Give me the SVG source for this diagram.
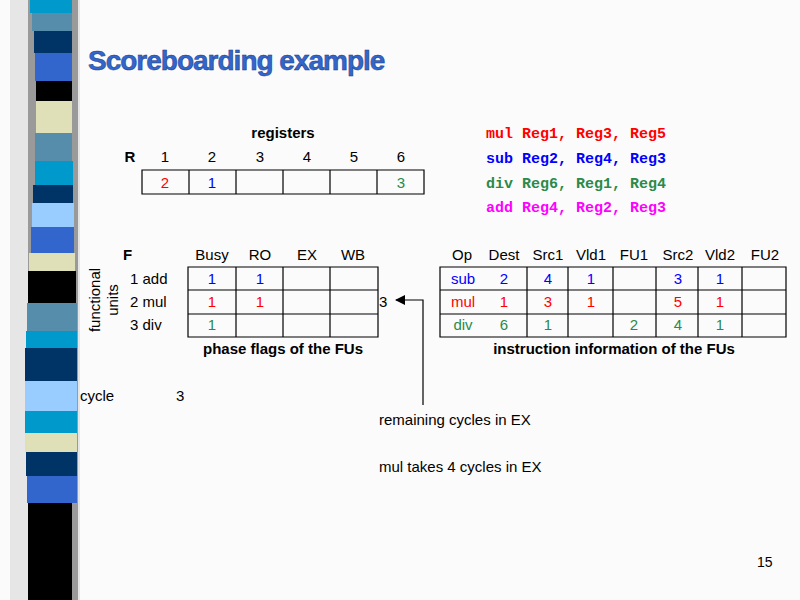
<svg xmlns="http://www.w3.org/2000/svg" width="800" height="600" viewBox="0 0 800 600">
<style>
text{font-family:"Liberation Sans",Arial,sans-serif;font-size:15px;fill:#000}
.m{font-family:"Liberation Mono","Courier New",monospace;font-weight:bold;font-size:15px}
.c{text-anchor:middle}
.b{font-weight:bold}
.cell{fill:none;stroke:#000;stroke-width:1.2}
.r{fill:#f00}.u{fill:#00f}.g{fill:#2a8a4a}.p{fill:#f0f}
</style>
<defs><marker id="ah" markerWidth="10" markerHeight="10" refX="9" refY="5" orient="auto" markerUnits="userSpaceOnUse"><path d="M0,0L10,5L0,10z" fill="#000"/></marker></defs>
<rect width="800" height="600" fill="#fbfbfb"/>
<g id="strip">
<rect x="10" y="0" width="70" height="600" fill="#e6e6e6"/>
<rect x="28" y="0" width="50" height="600" fill="#9a9a9a"/>
<rect x="30" y="0" width="42" height="13" fill="#0099cc"/>
<rect x="32" y="13" width="40" height="18" fill="#558daa"/>
<rect x="34" y="31" width="38" height="22" fill="#003366"/>
<rect x="35" y="53" width="37" height="28" fill="#3366cc"/>
<rect x="36" y="81" width="36" height="20" fill="#000"/>
<rect x="36" y="101" width="36" height="32" fill="#e0e0b8"/>
<rect x="35" y="133" width="37" height="28" fill="#558daa"/>
<rect x="35" y="161" width="38" height="24" fill="#0099cc"/>
<rect x="33" y="185" width="40" height="18" fill="#003366"/>
<rect x="32" y="203" width="42" height="24" fill="#99ccff"/>
<rect x="31" y="227" width="43" height="26" fill="#3366cc"/>
<rect x="29" y="253" width="46" height="18" fill="#e0e0b8"/>
<rect x="28" y="271" width="48" height="32" fill="#000"/>
<rect x="27" y="303" width="50" height="28" fill="#558daa"/>
<rect x="26" y="331" width="51" height="17" fill="#0099cc"/>
<rect x="25" y="348" width="52" height="33" fill="#003366"/>
<rect x="25" y="381" width="52" height="30" fill="#99ccff"/>
<rect x="25" y="411" width="52" height="22" fill="#0099cc"/>
<rect x="25" y="433" width="52" height="19" fill="#e0e0b8"/>
<rect x="26" y="452" width="51" height="24" fill="#003366"/>
<rect x="27" y="476" width="50" height="27" fill="#3366cc"/>
<rect x="28" y="503" width="44" height="97" fill="#000"/>
</g>
<text x="88" y="70" style="font-size:28px;font-weight:bold;fill:#3366cc;letter-spacing:-1px;stroke:#1a3a80;stroke-width:0.5">Scoreboarding example</text>
<g id="registers">
<text x="283" y="138" class="c b">registers</text>
<text x="130" y="162" class="c b">R</text>
<text x="165" y="162" class="c">1</text><text x="212" y="162" class="c">2</text><text x="260" y="162" class="c">3</text><text x="307" y="162" class="c">4</text><text x="354" y="162" class="c">5</text><text x="401" y="162" class="c">6</text>
<path class="cell" d="M142,170H424V194H142ZM189,170V194M236,170V194M283,170V194M330,170V194M377,170V194"/>
<text x="165" y="188" class="c r">2</text><text x="212" y="188" class="c u">1</text><text x="401" y="188" class="c g">3</text>
</g>
<g id="code">
<text x="486" y="138" class="m r">mul Reg1, Reg3, Reg5</text>
<text x="486" y="163" class="m u">sub Reg2, Reg4, Reg3</text>
<text x="486" y="188" class="m g">div Reg6, Reg1, Reg4</text>
<text x="486" y="212" class="m p">add Reg4, Reg2, Reg3</text>
</g>
<g id="fu-table">
<text x="123" y="260" class="b">F</text>
<text x="212" y="260" class="c">Busy</text><text x="260" y="260" class="c">RO</text><text x="307" y="260" class="c">EX</text><text x="353" y="260" class="c">WB</text>
<text x="100" y="300" class="c" transform="rotate(-90 100 300)">functional</text>
<text x="118" y="300" class="c" transform="rotate(-90 118 300)">units</text>
<text x="130" y="284">1 add</text><text x="130" y="307">2 mul</text><text x="130" y="330">3 div</text>
<path class="cell" d="M188,267H378V337H188ZM188,290H378M188,314H378M236,267V337M283,267V337M330,267V337"/>
<text x="212" y="284" class="c u">1</text><text x="260" y="284" class="c u">1</text>
<text x="212" y="307" class="c r">1</text><text x="260" y="307" class="c r">1</text>
<text x="212" y="330" class="c g">1</text>
<text x="283" y="354" class="c b">phase flags of the FUs</text>
<text x="379" y="307">3</text>
</g>
<g id="info-table">
<text x="462" y="260" class="c">Op</text><text x="504" y="260" class="c">Dest</text><text x="548" y="260" class="c">Src1</text><text x="591" y="260" class="c">Vld1</text><text x="634" y="260" class="c">FU1</text><text x="678" y="260" class="c">Src2</text><text x="720" y="260" class="c">Vld2</text><text x="765" y="260" class="c">FU2</text>
<path class="cell" d="M440,267H786V337H440ZM440,290H786M440,314H786M527,267V337M568,267V337M613,267V337M656,267V337M698,267V337M742,267V337"/>
<text x="463" y="284" class="c u">sub</text><text x="504" y="284" class="c u">2</text><text x="548" y="284" class="c u">4</text><text x="591" y="284" class="c u">1</text><text x="678" y="284" class="c u">3</text><text x="720" y="284" class="c u">1</text>
<text x="463" y="307" class="c r">mul</text><text x="504" y="307" class="c r">1</text><text x="548" y="307" class="c r">3</text><text x="591" y="307" class="c r">1</text><text x="678" y="307" class="c r">5</text><text x="720" y="307" class="c r">1</text>
<text x="463" y="330" class="c g">div</text><text x="504" y="330" class="c g">6</text><text x="548" y="330" class="c g">1</text><text x="634" y="330" class="c g">2</text><text x="678" y="330" class="c g">4</text><text x="720" y="330" class="c g">1</text>
<text x="614" y="354" class="c b">instruction information of the FUs</text>
</g>
<g id="connectors">
<path d="M423,405V300H396" fill="none" stroke="#000" stroke-width="1.2" marker-end="url(#ah)"/>
</g>
<text x="80" y="401">cycle</text><text x="176" y="401">3</text>
<text x="379" y="425">remaining cycles in EX</text>
<text x="379" y="472">mul takes 4 cycles in EX</text>
<text x="757" y="567" style="font-size:14px">15</text>
</svg>
